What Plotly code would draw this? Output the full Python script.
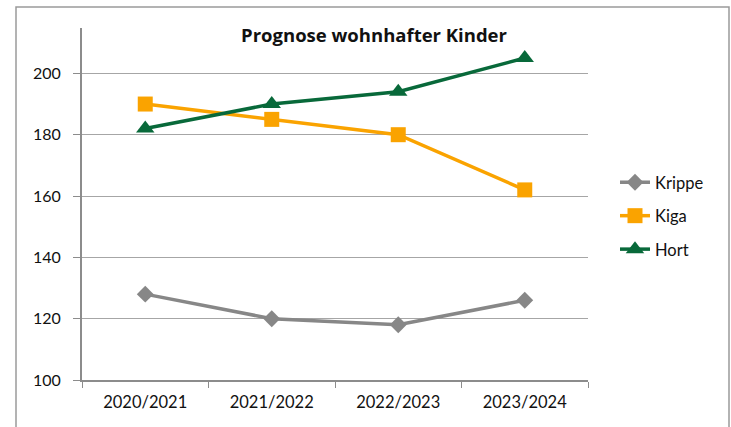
import plotly.graph_objects as go

categories = ["2020/2021", "2021/2022", "2022/2023", "2023/2024"]
krippe = [128, 120, 118, 126]
kiga = [190, 185, 180, 162]
hort = [182, 190, 194, 205]
y_ticks = [100, 120, 140, 160, 180, 200]

fig = go.Figure()
fig.add_trace(go.Scatter(x=categories, y=krippe, name="Krippe", mode="lines+markers",
                         line=dict(color="#878787", width=3.5), legendgroup="a",
                         marker=dict(symbol="diamond", size=13, color="#878787")))
fig.add_trace(go.Scatter(x=categories, y=kiga, name="Kiga", mode="lines+markers",
                         line=dict(color="#FAA300", width=3.5), legendgroup="b",
                         marker=dict(symbol="square", size=15, color="#FAA300")))
fig.add_trace(go.Scatter(x=categories, y=hort, name="Hort", mode="lines+markers",
                         line=dict(color="#08693A", width=3.5), legendgroup="c",
                         marker=dict(symbol="triangle-up", size=16, color="#08693A")))

W, H = 731, 427
L, R, T, B = 82, 143, 28, 47
pw, ph = W - L - R, H - T - B

def px(x):
    return (x - L) / pw

def py(y):
    return (H - B - y) / ph

fig.update_layout(
    width=W, height=H,
    margin=dict(l=L, r=R, t=T, b=B),
    paper_bgcolor="white", plot_bgcolor="white",
    font=dict(family="Lato, Open Sans, sans-serif", size=16, color="#111111"),
    title=dict(text="<b>Prognose wohnhafter Kinder</b>", xref="container", x=374 / W,
               xanchor="center", y=1 - 36 / H, yanchor="middle",
               font=dict(family="Open Sans, sans-serif", size=18.5, color="#111111")),
    showlegend=True,
    legend=dict(x=px(615), xanchor="left", y=py(216), yanchor="middle",
                traceorder="grouped", tracegroupgap=9,
                font=dict(size=16.5), bgcolor="rgba(0,0,0,0)"),
    xaxis=dict(type="category", range=[-0.5, 3.5], showgrid=False,
               showline=True, linecolor="#8C8C8C", linewidth=2,
               ticks="outside", tickcolor="#8C8C8C", ticklen=6, tickwidth=1,
               tickson="boundaries", tickfont=dict(size=16.5), ticklabelstandoff=6),
    yaxis=dict(range=[100, 214.8], tickvals=y_ticks, showgrid=True,
               gridcolor="#A6A6A6", gridwidth=1.3,
               showline=True, linecolor="#8C8C8C", linewidth=2,
               ticks="outside", tickcolor="#8C8C8C", ticklen=7, tickwidth=1,
               tickfont=dict(size=16), zeroline=False, ticklabelstandoff=9),
    shapes=[dict(type="rect", xref="paper", yref="paper",
                 x0=px(16), x1=px(729), y0=py(440), y1=py(7),
                 line=dict(color="#9A9A9A", width=1.5), fillcolor="rgba(0,0,0,0)",
                 layer="below")],
)

fig.write_html("out.html", config={"displayModeBar": False},
               post_script="document.body.style.margin='0';document.body.style.overflow='hidden';document.documentElement.style.overflow='hidden';")
